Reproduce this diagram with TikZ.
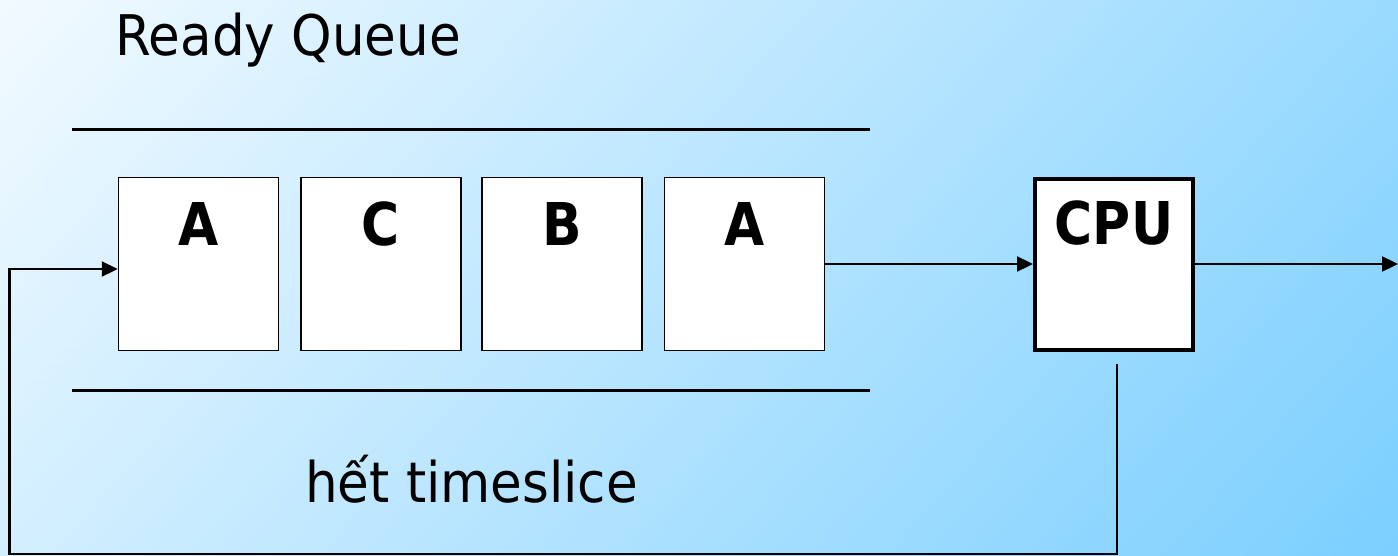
\documentclass[tikz,border=0pt]{standalone}
\usepackage{fontspec}
\setmainfont{DejaVu Sans}[FakeStretch=0.92]
\newfontfamily\boxfont{DejaVu Sans}[FakeStretch=0.88]
\usetikzlibrary{arrows.meta}
\definecolor{bglight}{HTML}{F2FAFF}
\definecolor{bgdark}{HTML}{7BCFFF}
\pgfdeclarehorizontalshading{bgshade}{3000pt}{color(0pt)=(bglight); color(1412pt)=(bgdark); color(1700pt)=(bgdark)}
\begin{document}
\begin{tikzpicture}[x=1pt,y=-1pt,
  qbox/.style={draw=black, fill=white, line width=1.5pt, minimum width=160pt, minimum height=173pt, inner sep=0pt},
  cpubox/.style={draw=black, fill=white, line width=4pt, minimum width=158pt, minimum height=171pt, inner sep=0pt},
  lettr/.style={font=\boxfont\bfseries\fontsize{59}{60}\selectfont, inner sep=0pt, anchor=base},
  plain/.style={font=\fontsize{56}{60}\selectfont, inner sep=0pt, anchor=base west},
  rail/.style={line width=3pt},
  conn/.style={line width=2.3pt, -{Triangle[length=16pt,width=15pt]}},
  ]
\useasboundingbox (0,0) rectangle (1398,555);
\begin{scope}
  \clip (0,0) rectangle (1398,555);
  \node[rotate=-41.8, anchor=west, inner sep=0pt, outer sep=0pt] (bg) at (0,0) {\pgfuseshading{bgshade}};
\end{scope}

\node[plain] (title) at (115,55) {Ready Queue};
\node[plain] (timeout) at (305,502) {hết timeslice};

\draw[rail] (72,129) -- (870,129);
\draw[rail] (72,390) -- (870,390);

\node[qbox] (q1) at (198.5,264) {};
\node[qbox] (q2) at (381,264) {};
\node[qbox] (q3) at (562,264) {};
\node[qbox] (q4) at (744.5,264) {};
\node[cpubox] (cpu) at (1114,264) {};

\node[lettr] (l1) at ([yshift=-69pt]q1.north) {A};
\node[lettr] (l2) at ([yshift=-69pt]q2.north) {C};
\node[lettr] (l3) at ([yshift=-69pt]q3.north) {B};
\node[lettr] (l4) at ([yshift=-69pt]q4.north) {A};
\node[lettr] (lcpu) at ([yshift=-68pt]cpu.north) {CPU};

\coordinate (out) at (1398,264);
\coordinate (fbtop) at ([xshift=3pt,yshift=-12pt]cpu.south);
\coordinate (fbr) at (1117,554);
\coordinate (fbl) at (9.5,554);
\coordinate (fbin) at (9.5,269);

\draw[conn] (q4.east) -- (cpu.west);
\draw[conn] (cpu.east) -- (out);
\draw[conn] (fbtop) -- (fbr) -- (fbl) -- (fbin) -- (q1.west |- fbin);
\end{tikzpicture}
\end{document}
